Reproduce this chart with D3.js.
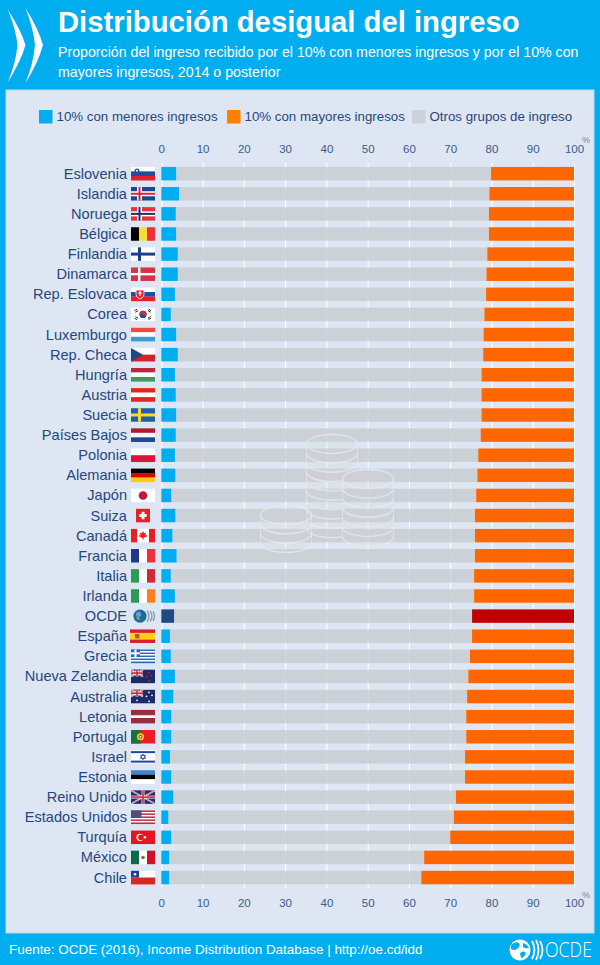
<!DOCTYPE html>
<html><head><meta charset="utf-8">
<script src="https://cdn.jsdelivr.net/npm/d3@7/dist/d3.min.js"></script>
<style>html,body{margin:0;padding:0;background:#00aeef}svg{display:block}text{font-family:"Liberation Sans",Arial,sans-serif}</style>
</head><body><svg id="c" width="600" height="965"></svg>
<script>
const countries=["Eslovenia","Islandia","Noruega","Bélgica","Finlandia","Dinamarca","Rep. Eslovaca","Corea","Luxemburgo","Rep. Checa","Hungría","Austria","Suecia","Países Bajos","Polonia","Alemania","Japón","Suiza","Canadá","Francia","Italia","Irlanda","OCDE","España","Grecia","Nueva Zelandia","Australia","Letonia","Portugal","Israel","Estonia","Reino Unido","Estados Unidos","Turquía","México","Chile"];
const lowest=[3.6,4.3,3.5,3.6,4.0,4.0,3.3,2.3,3.6,4.0,3.3,3.5,3.6,3.5,3.3,3.4,2.4,3.4,2.7,3.7,2.3,3.3,3.1,2.1,2.3,3.3,2.9,2.4,2.4,2.1,2.4,2.9,1.7,2.4,1.9,1.9];
const highest=[20.1,20.5,20.6,20.6,21.0,21.2,21.3,21.7,21.9,22.0,22.4,22.4,22.4,22.6,23.2,23.4,23.7,24.0,24.0,24.0,24.2,24.2,24.7,24.7,25.2,25.6,25.9,26.1,26.1,26.4,26.4,28.6,29.1,30.0,36.3,37.0];
const axisTicks=[0,10,20,30,40,50,60,70,80,90,100];
const legendLabels=["10% con menores ingresos","10% con mayores ingresos","Otros grupos de ingreso"];
const titleText="Distribución desigual del ingreso";
const subtitleLines=["Proporción del ingreso recibido por el 10% con menores ingresos y por el 10% con","mayores ingresos, 2014 o posterior"];
const sourceText="Fuente: OCDE (2016), Income Distribution Database | http://oe.cd/idd";

const BLUE="#00aeef",ORANGE="#ff6600",GREY="#cacdd3",NAVY="#27467e",PANEL="#dde6f2";
const svg=d3.select("#c");
svg.append("rect").attr("width",600).attr("height",965).attr("fill",BLUE);
svg.append("rect").attr("x",6).attr("y",90).attr("width",588).attr("height",843).attr("fill",PANEL).attr("stroke","#c3d6ea").attr("stroke-width",1);

// header
const chevrons=svg.append("g").attr("fill","#fff");
chevrons.append("path").attr("d","M8,10 Q21,30 25.5,45 Q21,61 8,82 Q16,62 17.5,45 Q16,30 8,10Z");
chevrons.append("path").attr("d","M25.5,8 Q38.5,29 43,45 Q38.5,62 25.5,83 Q33.5,63 35,45 Q33.5,29 25.5,8Z");
svg.append("text").attr("x",58).attr("y",32).attr("fill","#fff").attr("font-weight","bold").attr("font-size",29.25).text(titleText);
svg.selectAll("text.sub").data(subtitleLines).join("text").attr("class","sub").attr("x",58).attr("y",(d,i)=>57+i*20).attr("fill","#fff").attr("font-size",14.2).text(d=>d);

// legend
const legendX=[39,227,412],legendC=[BLUE,"#ff7f00","#cdd2d9"];
legendLabels.forEach((t,i)=>{
  svg.append("rect").attr("x",legendX[i]).attr("y",110).attr("width",13.5).attr("height",13.5).attr("fill",legendC[i]);
  svg.append("text").attr("x",legendX[i]+17.5).attr("y",121).attr("fill",NAVY).attr("font-size",13.3).text(t);
});

// scales
const x=d3.scaleLinear().domain([0,100]).range([161.3,574]);
const y=d3.scaleBand().domain(countries).range([163.6,887.6]).paddingInner(0.33).paddingOuter(0.165);

// gridlines
const grid=d3.axisTop(x).tickValues(axisTicks).tickSize(-725).tickFormat("");
svg.append("g").attr("transform","translate(0,163)").call(grid).call(g=>{g.select(".domain").remove();g.selectAll("line").attr("stroke","#fff").attr("stroke-width",1.1)});

// bars
const rows=countries.map((c,i)=>({c,low:lowest[i],high:highest[i],other:100-lowest[i]-highest[i]}));
const stack=d3.stack().keys(["low","other","high"])(rows);
const isO=d=>d.data.c==="OCDE";
const fills={low:d=>isO(d)?"#1f4a85":BLUE,other:()=>GREY,high:d=>isO(d)?"#c00000":ORANGE};
const opac={low:1,other:0.86,high:1};
["other","low","high"].forEach(k=>{
  const s=stack.find(l=>l.key===k);
  svg.append("g").selectAll("rect").data(s).join("rect")
   .attr("x",d=>x(d[0])).attr("width",d=>x(d[1])-x(d[0]))
   .attr("y",d=>y(d.data.c)).attr("height",y.bandwidth())
   .attr("fill",fills[k]).attr("opacity",opac[k]);
});

// axes labels
[163,888].forEach((yy,idx)=>{
  const ax=(idx?d3.axisBottom(x):d3.axisTop(x)).tickValues(axisTicks).tickSize(0).tickPadding(idx?11:10);
  svg.append("g").attr("transform",`translate(0,${yy})`).call(ax).call(g=>{
    g.select(".domain").remove();
    g.selectAll("text").attr("fill","#3a5a8c").attr("font-size",11.5).style("font-family",'"Liberation Sans",Arial,sans-serif');
  });
});
[[586,143],[586,898]].forEach(([a,b])=>svg.append("text").attr("x",a).attr("y",b).attr("text-anchor","middle").attr("fill","#6d83a8").attr("font-size",9).text("%"));

// coins
const coinDefs=[{id:"b",cx:332,top:444,n:10,step:9.35},{id:"l",cx:286,top:515,n:4,step:9.3},{id:"r",cx:368,top:479,n:7,step:9.6}];
const RX=25.5,RY=9.5;
const defs=svg.append("defs");
const m=defs.append("mask").attr("id","mb").attr("maskUnits","userSpaceOnUse").attr("x",0).attr("y",0).attr("width",600).attr("height",965);
m.append("rect").attr("width",600).attr("height",965).attr("fill","#fff");
const rd=coinDefs[2];
m.append("path").attr("fill","#000").attr("d",`M${rd.cx-RX-1},${rd.top} A${RX+1},${RY+1} 0 0 1 ${rd.cx+RX+1},${rd.top} V${rd.top+rd.step*(rd.n-1)} A${RX+1},${RY+1} 0 0 1 ${rd.cx-RX-1},${rd.top+rd.step*(rd.n-1)}Z`);
coinDefs.forEach(c=>{
  const g=svg.append("g").attr("fill","none").attr("stroke","#e9ecf0").attr("stroke-width",1.4).attr("opacity",.75);
  if(c.id==="b")g.attr("mask","url(#mb)");
  const bot=c.top+c.step*(c.n-1);
  g.append("path").attr("stroke","none").attr("fill","#ccd1d8").attr("opacity",.3).attr("d",`M${c.cx-RX},${c.top} A${RX},${RY} 0 0 1 ${c.cx+RX},${c.top} V${bot} A${RX},${RY} 0 0 1 ${c.cx-RX},${bot}Z`);
  g.append("path").attr("stroke-width",.8).attr("d",`M${c.cx-RX},${c.top} V${bot} M${c.cx+RX},${c.top} V${bot}`);
  g.append("ellipse").attr("cx",c.cx).attr("cy",c.top).attr("rx",RX).attr("ry",RY);
  d3.range(1,c.n).forEach(i=>{
    const yy=c.top+c.step*i;
    g.append("path").attr("d",`M${c.cx-RX},${yy} A${RX},${RY} 0 0 0 ${c.cx+RX},${yy}`);
  });
});

// labels
svg.selectAll("text.lab").data(countries).join("text").attr("class","lab").attr("x",127)
 .attr("y",d=>y(d)+y.bandwidth()/2+5).attr("text-anchor","end").attr("fill",NAVY).attr("font-size",14.6).text(d=>d);

// flags
const W=24,H=13.5;
const R=(g,a,b,w,h,f)=>g.append("rect").attr("x",a).attr("y",b).attr("width",w).attr("height",h).attr("fill",f);
const hs=cs=>g=>cs.forEach((c,i)=>R(g,0,i*H/cs.length,W,H/cs.length+.1,c));
const vs=cs=>g=>cs.forEach((c,i)=>R(g,i*W/cs.length,0,W/cs.length+.1,H,c));
const cross=(bg,c1,c2)=>g=>{R(g,0,0,W,H,bg);if(c2){R(g,6,0,5,H,c2);R(g,0,4.25,W,5,c2);}const t=c2?2:3;R(g,8.5-t/2,0,t,H,c1);R(g,0,6.75-t/2,W,t,c1);};
const P=(g,d,f,s,sw)=>g.append("path").attr("d",d).attr("fill",f||"none").attr("stroke",s||"none").attr("stroke-width",sw||0);
const C=(g,a,b,r,f)=>g.append("circle").attr("cx",a).attr("cy",b).attr("r",r).attr("fill",f);
const ukCorner=(g,w,h)=>{R(g,0,0,w,h,"#22306e");P(g,`M0,0L${w},${h}M${w},0L0,${h}`,null,"#fff",1.6);P(g,`M0,0L${w},${h}M${w},0L0,${h}`,null,"#d0253a",.6);R(g,w/2-1.4,0,2.8,h,"#fff");R(g,0,h/2-1.4,w,2.8,"#fff");R(g,w/2-.8,0,1.6,h,"#d0253a");R(g,0,h/2-.8,w,1.6,"#d0253a");};
const stars=(g,pts,col)=>pts.forEach(p=>C(g,p[0],p[1],.9,col));
const flagDraw={
 "Eslovenia":g=>{hs(["#fff","#1f4f9c","#e4202c"])(g);C(g,6,4.2,2.5,"#1f4f9c");C(g,6,3.8,1,"#fff");},
 "Islandia":cross("#1f4591","#e0242f","#fff"),
 "Noruega":cross("#e8323c","#1c2f6e","#fff"),
 "Bélgica":vs(["#000","#fadd3c","#ee2f3e"]),
 "Finlandia":cross("#fff","#1b3f8e"),
 "Dinamarca":g=>{R(g,0,0,W,H,"#d2344a");R(g,7,0,2.4,H,"#fff");R(g,0,5.5,W,2.4,"#fff");},
 "Rep. Eslovaca":g=>{hs(["#fff","#1a4fa3","#ee1c25"])(g);P(g,"M5,2.5H13V7Q13,10 9,11.5Q5,10 5,7Z","#e0242f","#fff",.8);R(g,8.4,3.5,1.2,5,"#fff");R(g,7,5,4,1,"#fff");},
 "Corea":g=>{R(g,0,0,W,H,"#fff");C(g,12,6.75,3.6,"#1f4f9c");P(g,"M8.4,6.75A3.6,3.6 0 0 1 15.6,6.75Q13.8,8.5 12,6.75Q10,5 8.4,6.75Z","#d42a3d");P(g,"M3.5,3L6,1.5M4.5,4.5L7,3M17.5,1.5L20,3M17,3L19.5,4.5M3.5,10.5L6,12M4.5,9L7,10.5M17.5,12L20,10.5M17,10.5L19.5,9",null,"#222",1);},
 "Luxemburgo":hs(["#f04a3d","#fff","#3a9dd0"]),
 "Rep. Checa":g=>{hs(["#fff","#d3222a"])(g);P(g,`M0,0L12,${H/2}L0,${H}Z`,"#1e4a80");},
 "Hungría":hs(["#b8283c","#fff","#3e9a57"]),
 "Austria":hs(["#e0261f","#fff","#e0261f"]),
 "Suecia":g=>{R(g,0,0,W,H,"#1f5fa5");R(g,7,0,3,H,"#fdd835");R(g,0,5.25,W,3,"#fdd835");},
 "Países Bajos":hs(["#ae1c28","#fff","#21468b"]),
 "Polonia":hs(["#fff","#dc143c"]),
 "Alemania":hs(["#000","#dd0000","#ffce00"]),
 "Japón":g=>{R(g,0,0,W,H,"#fff");C(g,12,6.75,4.3,"#bc1c3a");},
 "Suiza":g=>{R(g,5,0,14,H,"#ee1c25");R(g,10.5,3,3,7.5,"#fff");R(g,8.2,5.25,7.5,3,"#fff");},
 "Canadá":g=>{R(g,0,0,W,H,"#fff");R(g,0,0,6,H,"#ee1c25");R(g,18,0,6,H,"#ee1c25");P(g,"M12,2L13.2,4.4L15,3.8L14.4,6.6L16,6L15.4,8L12.6,8.8V10.6H11.4V8.8L8.6,8L8,6L9.6,6.6L9,3.8L10.8,4.4Z","#ee1c25");},
 "Francia":vs(["#1f3a8a","#fff","#ee2f3e"]),
 "Italia":vs(["#2a9a55","#fff","#cf2b37"]),
 "Irlanda":vs(["#2a9a55","#fff","#ff7f1e"]),
 "OCDE":g=>{C(g,9,6.75,6.6,"#1d6aa0");C(g,7.5,5,2.6,"#57a8d8");P(g,"M5,8Q8,7 9,10Q7,12 5,8Z","#8fb04a");["M16,1Q20,6.75 16,12.5","M19,1.5Q23,6.75 19,12","M22,2Q25,6.75 22,11.5"].forEach(d=>P(g,d,null,"#8a9aa8",1.4));},
 "España":g=>{R(g,-1,0,W+1,H,"#d81e2c");R(g,-1,3.4,W+1,6.8,"#fcd116");R(g,4,4.5,4.5,4.5,"#c0504d");},
 "Grecia":g=>{hs(["#2a6ab5","#fff","#2a6ab5","#fff","#2a6ab5","#fff","#2a6ab5","#fff","#2a6ab5"])(g);R(g,0,0,9,7.5,"#2a6ab5");R(g,3.5,0,2,7.5,"#fff");R(g,0,2.75,9,2,"#fff");},
 "Nueva Zelandia":g=>{R(g,0,0,W,H,"#1b2a6b");ukCorner(g,12,6.75);stars(g,[[18,3],[20.5,6],[16,7],[18,11]],"#d0253a");},
 "Australia":g=>{R(g,0,0,W,H,"#1b2a6b");ukCorner(g,12,6.75);stars(g,[[6,10.5],[18,2.5],[21,5.5],[15.5,6.5],[18,11.5]],"#fff");},
 "Letonia":g=>{R(g,0,0,W,H,"#9b2d3e");R(g,0,5.4,W,2.7,"#fff");},
 "Portugal":g=>{R(g,0,0,W,H,"#ee1c25");R(g,0,0,9.5,H,"#18743c");C(g,9.5,6.75,3.6,"#fcd116");C(g,9.5,6.75,2,"#c8242c");C(g,9.5,6.75,1,"#fff");},
 "Israel":g=>{R(g,0,0,W,H,"#fff");R(g,0,1,W,2,"#2446a0");R(g,0,10.5,W,2,"#2446a0");P(g,"M12,3.8L14.6,8.3H9.4ZM12,9.7L9.4,5.2H14.6Z",null,"#2446a0",.8);},
 "Estonia":hs(["#3d87cf","#000","#fff"]),
 "Reino Unido":g=>{ukCorner(g,W,H);},
 "Estados Unidos":g=>{hs(["#c03045","#fff","#c03045","#fff","#c03045","#fff","#c03045","#fff","#c03045"])(g);R(g,0,0,10.5,7.5,"#4a4f80");},
 "Turquía":g=>{R(g,0,0,W,H,"#e8141e");C(g,9,6.75,3.6,"#fff");C(g,10,6.75,2.9,"#e8141e");C(g,14,6.75,1.2,"#fff");},
 "México":g=>{vs(["#0b6a47","#fff","#ce1126"])(g);C(g,12,6.75,1.8,"#8a6b3d");},
 "Chile":g=>{hs(["#fff","#d6281c"])(g);R(g,0,0,8,H/2,"#1f3f95");C(g,4,3.4,1.3,"#fff");}
};
countries.forEach(c=>{
  const g=svg.append("g").attr("transform",`translate(131,${y(c)+y.bandwidth()/2-H/2})`);
  flagDraw[c](g);
});

// footer
svg.append("text").attr("x",9).attr("y",954).attr("fill","#fff").attr("font-size",13.45).text(sourceText);
const lg=svg.append("g");
C(lg,520,950,10.5,"#fff");
["M511,945Q515,941 519,943Q521,946 517,949Q514,951 511,949Z","M523,943Q527,944 529,948Q526,949 523,947Z","M520,953Q524,950 526,953Q524,958 521,958Z"].forEach(d=>P(lg,d,BLUE));
["M532,941Q537,950 532,959","M536,940Q541,950 536,960","M540,941Q545,950 540,959"].forEach(d=>P(lg,d,null,"#fff",1.8));
svg.append("text").attr("x",545).attr("y",957).attr("fill","#fff").attr("font-size",19.5).attr("font-weight",300).style("font-family",'"Open Sans",sans-serif').attr("textLength",47).attr("lengthAdjust","spacingAndGlyphs").text("OCDE");
</script></body></html>
